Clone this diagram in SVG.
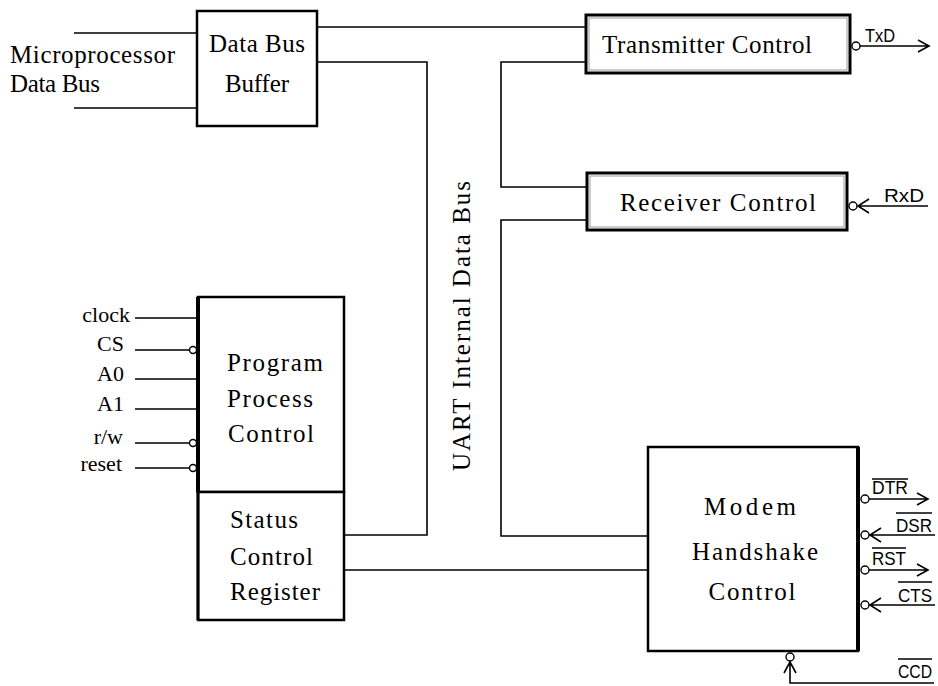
<svg xmlns="http://www.w3.org/2000/svg" width="938" height="686" viewBox="0 0 938 686">
<defs>
<style>
.box{fill:#fff;stroke:#000;stroke-width:2.5}
.dbl{fill:#fff;stroke:#000;stroke-width:3}
.in{fill:none;stroke:#999;stroke-width:1}
.w{fill:none;stroke:#000;stroke-width:1.6}
.bub{fill:#fff;stroke:#000;stroke-width:1.4}
.t{font-family:"Liberation Serif","Times New Roman",serif;font-size:25px;fill:#000}
.l{font-family:"Liberation Serif","Times New Roman",serif;font-size:22px;fill:#000}
.s{font-family:"Liberation Sans",Arial,sans-serif;font-size:18px;fill:#000}
.ov{stroke:#000;stroke-width:1.4}
</style>
</defs>
<rect width="938" height="686" fill="#fff"/>

<g id="connectors">
<path class="w" d="M74,33H197M74,108H197"/>
<path class="w" d="M317,27H586"/>
<path class="w" d="M317,62H427V535H344"/>
<path class="w" d="M586,62H501V187H587"/>
<path class="w" d="M587,220H501V536H648"/>
<path class="w" d="M344,570H648"/>
</g>

<g id="label-microprocessor">
<text class="t" x="10" y="63" textLength="165" lengthAdjust="spacing">Microprocessor</text>
<text class="t" x="10" y="92" textLength="90" lengthAdjust="spacing">Data Bus</text>
</g>

<g id="data-bus-buffer">
<rect class="box" x="197" y="11" width="120" height="115"/>
<text class="t" x="257" y="52" text-anchor="middle" textLength="96" lengthAdjust="spacing">Data Bus</text>
<text class="t" x="257" y="92" text-anchor="middle" textLength="64" lengthAdjust="spacing">Buffer</text>
</g>

<g id="transmitter-control">
<rect class="dbl" x="586" y="15" width="264" height="58"/>
<rect class="in" x="589" y="18" width="258" height="52"/>
<text class="t" x="707" y="53" text-anchor="middle" textLength="210" lengthAdjust="spacing">Transmitter Control</text>
<circle class="bub" cx="856" cy="46" r="4"/>
<path class="w" d="M860,46H928M918,40L929,46L918,52"/>
<text class="s" x="865" y="42" textLength="30" lengthAdjust="spacingAndGlyphs">TxD</text>
</g>

<g id="receiver-control">
<rect class="dbl" x="587" y="173" width="260" height="57"/>
<rect class="in" x="590" y="176" width="254" height="51"/>
<text class="t" x="718" y="211" text-anchor="middle" textLength="196" lengthAdjust="spacing">Receiver Control</text>
<circle class="bub" cx="853" cy="206" r="4"/>
<path class="w" d="M857,206H928M869,199L858,206L869,213"/>
<text class="s" x="884" y="202" textLength="40" lengthAdjust="spacingAndGlyphs">RxD</text>
</g>

<g id="uart-internal-data-bus">
<text class="t" transform="translate(470,326) rotate(-90)" text-anchor="middle" font-size="27" textLength="290" lengthAdjust="spacing">UART Internal Data Bus</text>
</g>

<g id="program-process-control">
<rect class="box" x="198" y="297" width="146" height="195"/>
<path d="M198,297V492" stroke="#000" stroke-width="4"/>
<text class="t" x="227" y="371" textLength="96" lengthAdjust="spacing">Program</text>
<text class="t" x="227" y="407" textLength="86" lengthAdjust="spacing">Process</text>
<text class="t" x="228" y="442" textLength="86" lengthAdjust="spacing">Control</text>
</g>

<g id="status-control-register">
<rect class="box" x="198" y="492" width="146" height="128"/>
<path d="M198,492V620" stroke="#000" stroke-width="3"/>
<text class="t" x="230" y="528" textLength="68" lengthAdjust="spacing">Status</text>
<text class="t" x="230" y="565" textLength="83" lengthAdjust="spacing">Control</text>
<text class="t" x="230" y="600" textLength="90" lengthAdjust="spacing">Register</text>
</g>

<g id="ppc-inputs">
<path class="w" d="M135,318H198M135,350H189M135,379H198M135,409H198M135,443H189M135,468H189"/>
<circle class="bub" cx="193" cy="350" r="3.5"/>
<circle class="bub" cx="193" cy="443" r="3.5"/>
<circle class="bub" cx="193" cy="468" r="3.5"/>
<text class="l" x="130" y="322" text-anchor="end">clock</text>
<text class="l" x="124" y="351" text-anchor="end">CS</text>
<text class="l" x="124" y="381" text-anchor="end">A0</text>
<text class="l" x="124" y="411" text-anchor="end">A1</text>
<text class="l" x="123" y="444" text-anchor="end">r/w</text>
<text class="l" x="122" y="471" text-anchor="end">reset</text>
</g>

<g id="modem-handshake-control">
<rect class="box" x="648" y="447" width="210" height="204"/>
<path d="M858,447V651" stroke="#000" stroke-width="4"/>
<text class="t" x="750" y="515" text-anchor="middle" font-size="27" textLength="92" lengthAdjust="spacing">Modem</text>
<text class="t" x="755" y="560" text-anchor="middle" font-size="27" textLength="126" lengthAdjust="spacing">Handshake</text>
<text class="t" x="752" y="600" text-anchor="middle" font-size="27" textLength="87" lengthAdjust="spacing">Control</text>
</g>

<g id="modem-signals">
<circle class="bub" cx="865" cy="499" r="4"/>
<path class="w" d="M869,499H927M917,493L928,499L917,505"/>
<text class="s" x="872" y="494" textLength="36" lengthAdjust="spacingAndGlyphs">DTR</text>
<path class="ov" d="M872,479H908"/>

<circle class="bub" cx="865" cy="535" r="4"/>
<path class="w" d="M869,535H935M881,528L870,535L881,542"/>
<text class="s" x="896" y="532" textLength="36" lengthAdjust="spacingAndGlyphs">DSR</text>
<path class="ov" d="M896,513H932"/>

<circle class="bub" cx="865" cy="570" r="4"/>
<path class="w" d="M869,570H927M917,564L928,570L917,576"/>
<text class="s" x="872" y="565" textLength="34" lengthAdjust="spacingAndGlyphs">RST</text>
<path class="ov" d="M872,548H906"/>

<circle class="bub" cx="865" cy="605" r="4"/>
<path class="w" d="M869,605H935M881,598L870,605L881,612"/>
<text class="s" x="898" y="602" textLength="34" lengthAdjust="spacingAndGlyphs">CTS</text>
<path class="ov" d="M898,582H932"/>

<circle class="bub" cx="790" cy="657" r="4"/>
<path class="w" d="M790,661V683H934M784,673L790,662L796,673"/>
<text class="s" x="898" y="678" textLength="34" lengthAdjust="spacingAndGlyphs">CCD</text>
<path class="ov" d="M898,659H932"/>
</g>
</svg>
